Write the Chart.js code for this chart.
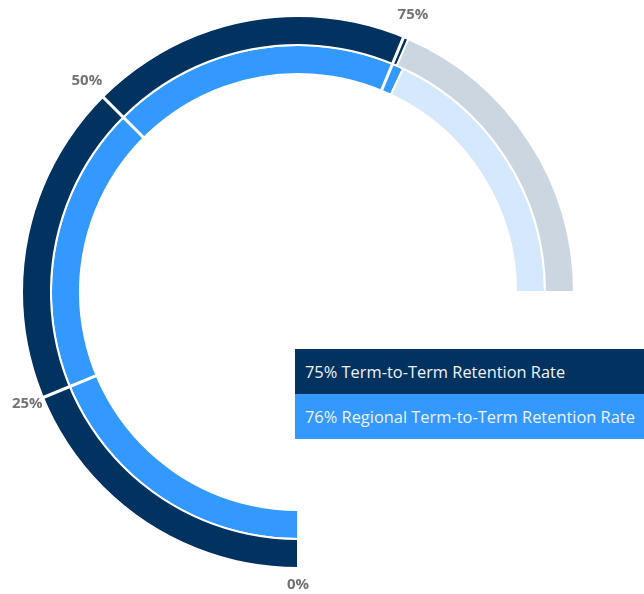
<!DOCTYPE html>
<html>
<head>
<meta charset="utf-8">
<script src="https://cdn.jsdelivr.net/npm/chart.js@4.4.1/dist/chart.umd.min.js"></script>
<style>
    html, body { margin: 0; padding: 0; background: #fff; }
    #wrap { position: relative; width: 644px; height: 594px; overflow: hidden; }
    #gauge { position: absolute; left: 0; top: 0; }
    #legend {
        position: absolute; left: 295px; top: 349px; width: 349px;
        font-family: 'Open Sans', sans-serif; font-size: 16.4px; color: #eef2f7;
    }
    #legend div { height: 45px; line-height: 45px; padding-left: 10px; white-space: nowrap; }
</style>
</head>
<body>
<div id="wrap">
    <canvas id="gauge" width="644" height="594"></canvas>
    <div id="legend"></div>
</div>
<script>
// gauge data
const tickValues = [0, 25, 50, 75];
const tickLabels = ['0%', '25%', '50%', '75%'];
const seriesNames = ['Term-to-Term Retention Rate', 'Regional Term-to-Term Retention Rate'];
const seriesValues = [75.4, 76];

// colours (filled part, remainder)
const fillColors = ['#02325f', '#3399ff'];
const restColors = ['#ccd6e0', '#d6e9fc'];

// white separators + percent labels around the ring
const gaugeTicks = {
    id: 'gaugeTicks',
    afterDatasetsDraw(chart) {
        const ctx = chart.ctx;
        const outerArc = chart.getDatasetMeta(0).data[0];
        const innerArc = chart.getDatasetMeta(seriesValues.length - 1).data[0];
        const cx = outerArc.x, cy = outerArc.y;
        const rOut = outerArc.outerRadius;
        const rIn = innerArc.innerRadius;
        const start = outerArc.startAngle;
        const sweep = chart.options.circumference * Math.PI / 180;

        ctx.save();
        tickValues.forEach((t, i) => {
            const a = start + sweep * t / 100;
            const cos = Math.cos(a), sin = Math.sin(a);
            if (t > 0) {
                ctx.strokeStyle = '#ffffff';
                ctx.lineWidth = 3;
                ctx.beginPath();
                ctx.moveTo(cx + (rIn - 1) * cos, cy + (rIn - 1) * sin);
                ctx.lineTo(cx + (rOut + 1) * cos, cy + (rOut + 1) * sin);
                ctx.stroke();
            }
            const r = rOut + 17 + 8 * Math.max(0, -sin);
            ctx.fillStyle = '#737373';
            ctx.font = 'bold 15px "Open Sans", sans-serif';
            ctx.textAlign = 'center';
            ctx.textBaseline = 'middle';
            ctx.fillText(tickLabels[i], cx + r * cos, cy + r * sin);
        });
        ctx.restore();
    }
};

const datasets = seriesValues.map((v, i) => ({
    label: seriesNames[i],
    data: [v, 100 - v],
    backgroundColor: [fillColors[i], restColors[i]],
    borderColor: '#ffffff',
    borderWidth: 2,
}));

new Chart(document.getElementById('gauge'), {
    type: 'doughnut',
    data: {
        labels: ['value', 'rest'],
        datasets: datasets,
    },
    options: {
        responsive: false,
        animation: false,
        rotation: 180,
        circumference: 270,
        radius: 276,
        cutout: '79%',
        layout: { padding: { left: 20, right: 68, top: 14, bottom: 24 } },
        plugins: {
            legend: { display: false },
            tooltip: { enabled: false },
        },
        events: [],
    },
    plugins: [gaugeTicks],
});

// legend boxes
const legendEl = document.getElementById('legend');
seriesValues.forEach((v, i) => {
    const row = document.createElement('div');
    row.style.background = fillColors[i];
    row.textContent = `${Math.round(v)}% ${seriesNames[i]}`;
    legendEl.appendChild(row);
});
</script>
</body>
</html>
